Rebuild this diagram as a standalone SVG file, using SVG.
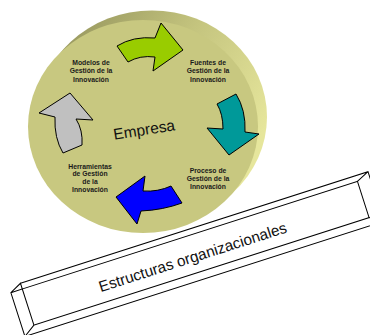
<svg xmlns="http://www.w3.org/2000/svg" width="370" height="335" viewBox="0 0 370 335">
<defs>
<linearGradient id="rim" gradientUnits="userSpaceOnUse" x1="90" y1="10" x2="265" y2="130">
<stop offset="0" stop-color="#9c9c62"/>
<stop offset="0.45" stop-color="#c4c47e"/>
<stop offset="1" stop-color="#e6e69c"/>
</linearGradient>
<style>
.lbl{font-family:"Liberation Sans",Arial,sans-serif;font-size:6.8px;font-weight:bold;fill:#1a1a1a;text-anchor:middle}
.big{font-family:"Liberation Sans",Arial,sans-serif;fill:#111;text-anchor:middle}
.arr{stroke:#000;stroke-width:1;stroke-linejoin:miter}
.bar{fill:none;stroke:#000;stroke-width:1}
</style>
</defs>
<rect width="370" height="335" fill="#fff"/>
<g id="disc">
<ellipse cx="152" cy="117" rx="115" ry="106.5" fill="url(#rim)"/>
<ellipse cx="143" cy="126.5" rx="115" ry="106.5" fill="#c8c880"/>
<text class="big" font-size="15.5" transform="translate(145,135) rotate(-9)">Empresa</text>
</g>
<g id="connectors">
<path id="arrow-green" class="arr" fill="#99cc00" d="M117,46 Q133,36 155,38 L161,23 L183,50 L153,71 L155,57 Q140,55 128,62 Z"/>
<path id="arrow-teal" class="arr" fill="#009999" d="M217,104 L236,94 Q246,110 245,132 L259,134 L229,155 L207,128 L223,129 Q223,114 217,104 Z"/>
<path id="arrow-blue" class="arr" fill="#0000ff" d="M171,186 L182,203 Q163,210 141,211 L137,224 L116,197 L145,176 L143,191 Q158,192 171,186 Z"/>
<path id="arrow-gray" class="arr" fill="#c0c0c0" d="M70,93 L93,120 L76,119 Q83,130 82,145 L63,153 Q54,138 55,117 L39,113 Z"/>
</g>
<g id="node-modelos">
<text class="lbl" x="91" y="64.5">Modelos de</text>
<text class="lbl" x="91" y="73">Gestión de la</text>
<text class="lbl" x="91" y="81.5">Innovación</text>
</g>
<g id="node-fuentes">
<text class="lbl" x="208" y="64.5">Fuentes de</text>
<text class="lbl" x="208" y="73">Gestión de la</text>
<text class="lbl" x="208" y="81.5">Innovación</text>
</g>
<g id="node-proceso">
<text class="lbl" x="208" y="172.5">Proceso de</text>
<text class="lbl" x="208" y="180.5">Gestión de la</text>
<text class="lbl" x="208" y="188.5">Innovación</text>
</g>
<g id="node-herramientas">
<text class="lbl" x="90" y="168.5">Herramientas</text>
<text class="lbl" x="90" y="176">de Gestión</text>
<text class="lbl" x="90" y="183.5">de la</text>
<text class="lbl" x="90" y="191.5">Innovación</text>
</g>
<g id="node-estructuras" transform="translate(22.3,289) rotate(-17.8)">
<rect x="0" y="0" width="352" height="38" fill="#fff" stroke="#000" stroke-width="1"/>
<path class="bar" d="M0,-6 L365,-6 L365,46 L-12,46 L-12,0 L0,-6 L0,0 L-12,0 M365,-6 L352,0 M0,38 L-12,46 M352,38 L365,46"/>
<text class="big" font-size="15.3" x="172" y="27">Estructuras organizacionales</text>
</g>
</svg>
